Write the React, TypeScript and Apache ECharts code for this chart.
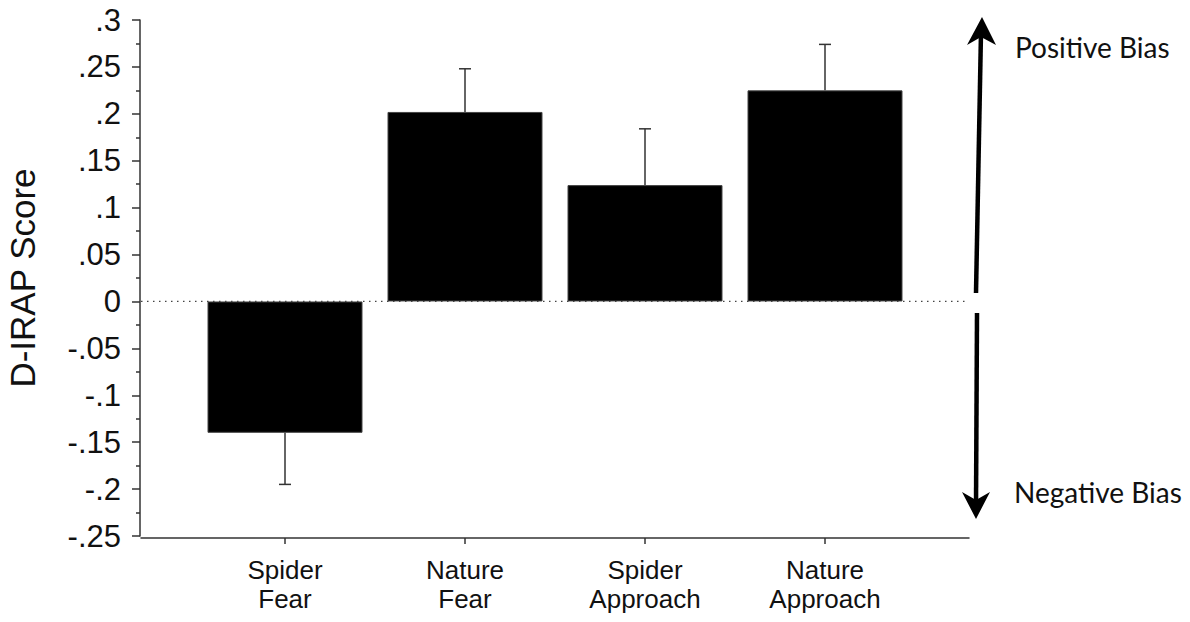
import React, { useEffect, useRef } from "react";
import * as echarts from "echarts";

const categories = ["Spider\nFear", "Nature\nFear", "Spider\nApproach", "Nature\nApproach"];
const positions = [1, 2, 3, 4];
const means = [-0.14, 0.202, 0.124, 0.225];
const errorEnds = [-0.195, 0.248, 0.184, 0.274];
const yTicks = { min: -0.25, max: 0.3, interval: 0.05 };

function fmt(v: number): string {
  const r = Math.round(v * 100) / 100;
  if (r === 0) return "0";
  const s = String(Math.abs(r)).replace(/^0\./, ".");
  return (r < 0 ? "-" : "") + s;
}

export default function App() {
  const ref = useRef<HTMLDivElement>(null);
  useEffect(() => {
    const chart = echarts.init(ref.current!, null, { renderer: "svg" });
    const axisColor = "#333";
    chart.setOption({
      animation: false,
      backgroundColor: "#fff",
      grid: { left: 141, right: 221, top: 20, bottom: 86, containLabel: false, outerBoundsMode: "none" },
      xAxis: {
        type: "value",
        min: 0.2,
        max: 4.8,
        offset: 2,
        splitLine: { show: false },
        axisLine: { show: true, onZero: false, lineStyle: { color: axisColor, width: 1.5 } },
        axisTick: { show: true, length: 6, customValues: positions, lineStyle: { color: axisColor, width: 1.5 } },
        axisLabel: {
          customValues: positions,
          formatter: (v: number) => categories[Math.round(v) - 1] ?? "",
          fontFamily: "Liberation Sans",
          fontSize: 26,
          lineHeight: 29,
          color: "#111",
          margin: 17,
        },
      },
      yAxis: {
        type: "value",
        min: yTicks.min,
        max: yTicks.max,
        interval: yTicks.interval,
        offset: 1,
        name: "D-IRAP Score",
        nameLocation: "middle",
        nameGap: 100,
        nameTextStyle: { fontFamily: "Liberation Sans", fontSize: 35, color: "#111" },
        splitLine: { show: false },
        axisLine: { show: true, onZero: false, lineStyle: { color: axisColor, width: 1.5 } },
        axisTick: { show: true, length: 8, lineStyle: { color: axisColor, width: 1.5 } },
        minorTick: { show: true, splitNumber: 2, length: 4, lineStyle: { color: axisColor, width: 1.5 } },
        axisLabel: {
          formatter: (v: number) => fmt(v),
          fontFamily: "Liberation Sans",
          fontSize: 31,
          color: "#111",
          margin: 19,
        },
      },
      series: [
        {
          type: "line",
          z: 1,
          symbol: "none",
          silent: true,
          data: [[0.2, 0], [4.8, 0]],
          lineStyle: { color: "#444", width: 1.2, type: [1.5, 4.5] },
        },
        {
          type: "bar",
          z: 2,
          barWidth: 155,
          data: positions.map((p, i) => [p, means[i]]),
          itemStyle: { color: "#000", borderColor: "#444", borderWidth: 1 },
        },
        {
          type: "custom",
          z: 3,
          data: positions.map((p, i) => [p, means[i], errorEnds[i]]),
          renderItem: (params: any, api: any) => {
            const x = api.value(0);
            const p0 = api.coord([x, api.value(1)]);
            const p1 = api.coord([x, api.value(2)]);
            const st = { stroke: "#333", lineWidth: 1.5 };
            return {
              type: "group",
              children: [
                { type: "line", shape: { x1: p0[0], y1: p0[1], x2: p1[0], y2: p1[1] }, style: st },
                { type: "line", shape: { x1: p1[0] - 6, y1: p1[1], x2: p1[0] + 6, y2: p1[1] }, style: st },
              ],
            };
          },
        },
      ],
      graphic: [
        { type: "line", shape: { x1: 976, y1: 293, x2: 981, y2: 32 }, style: { stroke: "#000", lineWidth: 4.5 } },
        { type: "polygon", shape: { points: [[982, 17], [996, 45], [981, 37], [967, 45]] }, style: { fill: "#000" } },
        { type: "line", shape: { x1: 977, y1: 313, x2: 976, y2: 505 }, style: { stroke: "#000", lineWidth: 4.5 } },
        { type: "polygon", shape: { points: [[976, 519], [962, 492], [976, 500], [990, 492]] }, style: { fill: "#000" } },
        {
          type: "text",
          x: 1015,
          y: 47,
          style: { text: "Positive Bias", fontFamily: "Lato", fontSize: 28, fill: "#111", textVerticalAlign: "middle" },
        },
        {
          type: "text",
          x: 1014,
          y: 492,
          style: { text: "Negative Bias", fontFamily: "Lato", fontSize: 28, fill: "#111", textVerticalAlign: "middle" },
        },
      ],
    });
    return () => chart.dispose();
  }, []);
  return <div ref={ref} style={{ position: "absolute", left: 0, top: 0, width: 1190, height: 622 }} />;
}
